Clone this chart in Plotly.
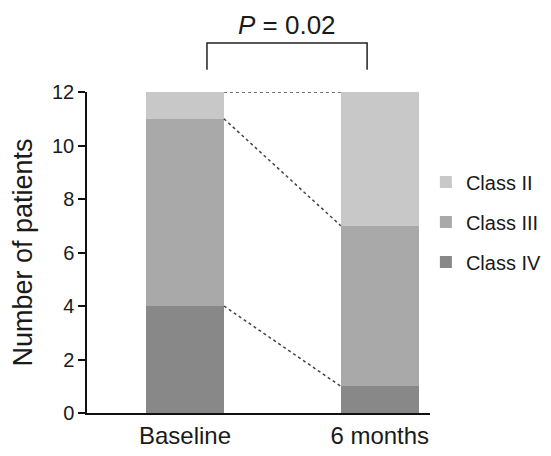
import plotly.graph_objects as go

# ---- data ----
timepoints = ["Baseline", "6 months"]
class_names = ["Class IV", "Class III", "Class II"]
class_iv = [4, 1]
class_iii = [7, 6]
class_ii = [1, 5]
series = [class_iv, class_iii, class_ii]
colors = ["#888888", "#a9a9a9", "#c8c8c8"]
legend_ranks = [3, 2, 1]
y_ticks = [0, 2, 4, 6, 8, 10, 12]
p_label = "<i>P</i> = 0.02"

FONT = "Liberation Sans, Arial, sans-serif"
bar_w = 0.40
xpos = list(range(len(timepoints)))

fig = go.Figure()
for name, vals, col, rk in zip(class_names, series, colors, legend_ranks):
    fig.add_trace(go.Bar(
        x=xpos, y=vals, name=name, width=bar_w,
        marker=dict(color=col, line=dict(width=0)),
        legendgroup=name, legendrank=rk,
    ))

# connecting dotted lines between cumulative boundaries
cum0, cum1 = [], []
s0 = s1 = 0
for vals in series:
    s0 += vals[0]
    s1 += vals[1]
    cum0.append(s0)
    cum1.append(s1)
lx, ly = [], []
for a, b in zip(cum0, cum1):
    lx += [xpos[0] + bar_w / 2, xpos[1] - bar_w / 2, None]
    ly += [a, b, None]
fig.add_trace(go.Scatter(
    x=lx, y=ly, mode="lines", showlegend=False, hoverinfo="skip",
    line=dict(color="#444444", width=1.5, dash="dot"),
))

# significance bracket
bx0, bx1 = 0.113, 0.935
fig.add_shape(type="path", xref="x", yref="paper",
              path=f"M {bx0},1.069 L {bx0},1.153 L {bx1},1.153 L {bx1},1.069",
              line=dict(color="#222222", width=1.5))
fig.add_annotation(x=(bx0 + bx1) / 2, y=1.21, xref="x", yref="paper",
                   yanchor="middle", xanchor="center",
                   text=p_label, showarrow=False,
                   font=dict(family=FONT, size=26, color="#1a1a1a"))

# page body has an 8px margin, so the figure is sized to fit inside the window
fig.update_layout(
    width=543, height=448,
    margin=dict(l=79, r=121, t=84, b=43, autoexpand=False),
    paper_bgcolor="white", plot_bgcolor="white",
    barmode="stack", bargap=0,
    font=dict(family=FONT, color="#1a1a1a"),
    showlegend=True,
    legend=dict(x=0.988, xanchor="left", y=0.78, yanchor="top",
                traceorder="grouped", tracegroupgap=11,
                font=dict(family=FONT, size=20, color="#1a1a1a"),
                bgcolor="rgba(0,0,0,0)"),
)
fig.update_xaxes(
    range=[-0.503, 1.258], tickvals=xpos, ticktext=timepoints,
    showline=True, linecolor="#111111", linewidth=1.5,
    ticks="", showgrid=False, zeroline=False,
    tickfont=dict(family=FONT, size=24, color="#1a1a1a"),
)
fig.update_yaxes(
    range=[0, 12], tickvals=y_ticks,
    showline=True, linecolor="#111111", linewidth=1.5,
    ticks="outside", ticklen=7, tickwidth=1.5, tickcolor="#111111",
    showgrid=False, zeroline=False,
    tickfont=dict(family=FONT, size=20, color="#1a1a1a"),
    title=dict(text="Number of patients", standoff=12,
               font=dict(family=FONT, size=27, color="#1a1a1a")),
)

fig.write_html("out.html")
